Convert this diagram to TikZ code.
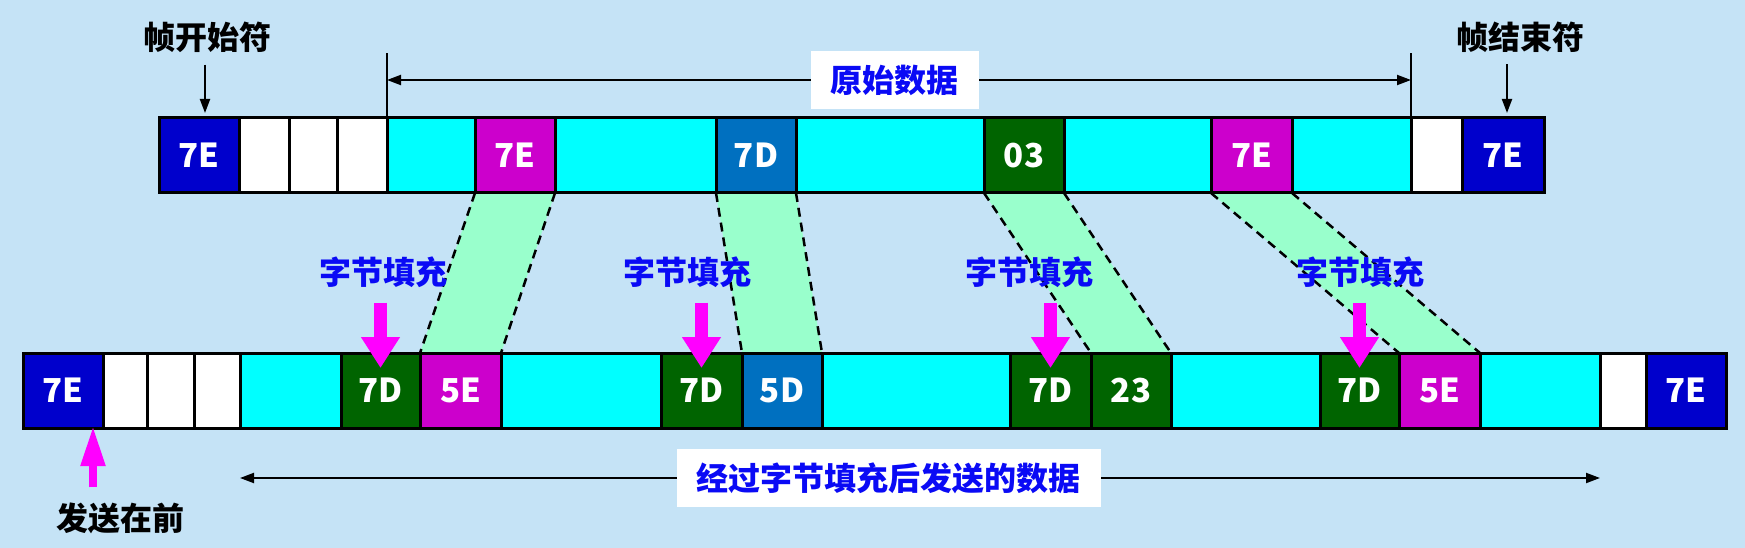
\documentclass[tikz,border=0pt]{standalone}
\usepackage{fontspec}
\setmainfont{Noto Sans CJK SC}
\usepackage{tikz}
\usetikzlibrary{arrows.meta,positioning,calc,backgrounds}
\usepackage{xcolor}
\definecolor{pagebg}{HTML}{C5E3F6}
\definecolor{flagblue}{HTML}{0000CC}
\definecolor{escmag}{HTML}{CC00CC}
\definecolor{escblue}{HTML}{0070C0}
\definecolor{ctrlgreen}{HTML}{006400}
\definecolor{datacyan}{HTML}{00FFFF}
\definecolor{bridgemint}{HTML}{99FFCC}
\definecolor{padpink}{HTML}{FF00FF}
\definecolor{labblue}{HTML}{0A0AF5}
\newcommand{\hexfont}{\fontsize{33}{36}\selectfont\bfseries}
\newcommand{\labfont}{\fontsize{32}{36}\selectfont\bfseries}

\begin{document}
\begin{tikzpicture}[
  x=1pt, y=-1pt,
  >={Triangle[length=14pt,width=10pt]},
  cell/.style={rectangle, draw=black, line width=3pt, minimum height=75pt,
               inner sep=0pt, outer sep=0pt, text=white, font=\hexfont},
  span/.style={<->, draw=black, line width=2pt},
  spanedge/.style={draw=black, line width=2.2pt},
  ptr/.style={->, draw=black, line width=2pt},
  databox/.style={rectangle, fill=white, text=labblue, font=\labfont,
                  inner xsep=20pt, inner ysep=0pt, minimum height=58pt},
  note/.style={text=black, font=\labfont, inner sep=0pt},
  padnote/.style={text=labblue, font=\labfont, inner sep=0pt},
  padarrow/.style={-{Triangle[length=31pt,width=37pt]}, draw=padpink,
                   line width=13pt},
  sendarrow/.style={-{Triangle[length=40pt,width=23pt]}, draw=padpink,
                    line width=8pt},
  bridge/.style={draw=black, line width=2.5pt, dash pattern=on 9pt off 6pt}
]
\useasboundingbox (0,0) rectangle (1745,548);
\begin{scope}[on background layer]
  \fill[pagebg] (0,0) rectangle (1745,548);
\end{scope}

% ---------- Original frame ----------
\coordinate (t0) at (159,155.5);
\foreach \w/\c/\t [count=\i, remember=\i as \j (initially 0)] in
  {80/flagblue/7E, 50/white/{}, 48/white/{}, 50/white/{}, 88/datacyan/{},
   80/escmag/7E, 161/datacyan/{}, 80/escblue/7D, 188/datacyan/{},
   80/ctrlgreen/03, 147/datacyan/{}, 81/escmag/7E, 119/datacyan/{},
   51/white/{}, 82/flagblue/7E}
  \node[cell, fill=\c, minimum width=\w pt, right=0pt of t\j] (t\i) {\t};

% ---------- Stuffed frame ----------
\coordinate (b0) at (23,390.5);
\foreach \w/\c/\t [count=\i, remember=\i as \j (initially 0)] in
  {80/flagblue/7E, 44/white/{}, 47/white/{}, 46/white/{}, 101/datacyan/{},
   79/ctrlgreen/7D, 81/escmag/5E, 160/datacyan/{}, 81/ctrlgreen/7D,
   80/escblue/5D, 188/datacyan/{}, 81/ctrlgreen/7D, 80/ctrlgreen/23,
   149/datacyan/{}, 79/ctrlgreen/7D, 81/escmag/5E, 120/datacyan/{},
   46/white/{}, 80/flagblue/7E}
  \node[cell, fill=\c, minimum width=\w pt, right=0pt of b\j] (b\i) {\t};

% escaped bytes: old cell -> new cell
\foreach \s/\d in {6/7, 8/10, 10/13, 12/16} {
  \begin{scope}[on background layer]
    \fill[bridgemint] (t\s.south west) -- (t\s.south east)
      -- (b\d.north east) -- (b\d.north west) -- cycle;
  \end{scope}
  \draw[bridge] (t\s.south west) -- (b\d.north west);
  \draw[bridge] (t\s.south east) -- (b\d.north east);
}

% ---------- Flags ----------
\node[note] (soflab) at (207,37) {帧开始符};
\node[note] (eoflab) at (1520,37) {帧结束符};
\coordinate (sof) at ([xshift=6pt]t1.north);
\coordinate (eof) at ([xshift=4pt]t15.north);
\draw[ptr, shorten <=12pt, shorten >=5pt] (sof |- soflab.south) -- (sof);
\draw[ptr, shorten <=12pt, shorten >=5pt] (eof |- eoflab.south) -- (eof);

% raw data span
\draw[spanedge] (t5.north west) -- ([yshift=65pt]t5.north west);
\draw[spanedge] (t13.north east) -- ([yshift=65pt]t13.north east);
\draw[span] ([yshift=38pt]t5.north west) --
  node[databox, pos=0.496] (rawlab) {原始数据} ([yshift=38pt]t13.north east);

% ---------- Stuffing marks ----------
\foreach \x/\c [count=\k] in {383/6, 687/9, 1029/12, 1360/15} {
  \node[padnote] (pad\k) at (\x,272) {字节填充};
  \draw[padarrow, shorten <=15pt, shorten >=-15pt]
    (b\c.north |- pad\k.south) -- (b\c.north);
}

% sent data span
\draw[span] ([yshift=-50pt]b5.south west) --
  node[databox, pos=0.477] (sentlab) {经过字节填充后发送的数据}
  ([yshift=-50pt]b18.south west);

% ---------- Sending order ----------
\node[note] (sendlab) at (120,518) {发送在前};
\coordinate (first) at ([xshift=-10pt]b1.south east);
\draw[sendarrow, shorten <=15pt, shorten >=-2pt] (first |- sendlab.north) -- (first);

\end{tikzpicture}
\end{document}
